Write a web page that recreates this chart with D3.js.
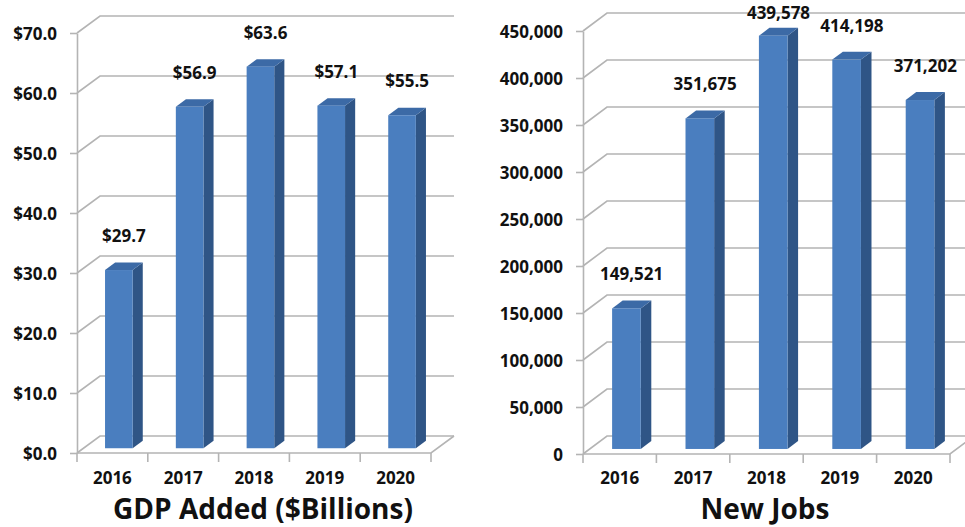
<!DOCTYPE html>
<html>
<head>
<meta charset="utf-8">
<script src="https://cdn.jsdelivr.net/npm/d3@7"></script>
<style>
  html, body { margin: 0; padding: 0; background: #ffffff; }
  svg { display: block; }
  text { font-family: "Open Sans", "DejaVu Sans", sans-serif; font-weight: 700; fill: #111; }
</style>
</head>
<body>
<svg id="chart" width="965" height="527"></svg>
<script>
// ---- data ----
const years = ["2016", "2017", "2018", "2019", "2020"];
const gdpValues = [29.7, 56.9, 63.6, 57.1, 55.5];
const gdpTicks = [0, 10, 20, 30, 40, 50, 60, 70];
const gdpTitle = "GDP Added ($Billions)";
const jobsValues = [149521, 351675, 439578, 414198, 371202];
const jobsTicks = [0, 50000, 100000, 150000, 200000, 250000, 300000, 350000, 400000, 450000];
const jobsTitle = "New Jobs";

// ---- style ----
const gridColor = "#b4b4b4";
const frontColor = "#4a7ebf";
const sideColor = "#2f5586";
const topColor = "#3c6aa6";

const svg = d3.select("#chart");

function drawChart(cfg) {
  const g = svg.append("g");
  const y = d3.scaleLinear().domain([0, cfg.max]).range([cfg.yBottom, cfg.yTop]);
  const x = d3.scaleBand().domain(cfg.categories).range([cfg.x0, cfg.x1]).padding(0);
  const dx = cfg.dx, dy = cfg.dy;
  const t0 = 0.28, t1 = 0.72;
  const barFrac = 0.39;

  // back wall gridlines with diagonals
  cfg.ticks.forEach(t => {
    const yy = y(t);
    g.append("path")
      .attr("d", `M${cfg.x0},${yy}L${cfg.x0 + dx},${yy + dy}L${cfg.x1 + dx},${yy + dy}`)
      .attr("fill", "none").attr("stroke", gridColor).attr("stroke-width", 1.6);
  });
  // floor front edge and right diagonal
  g.append("path")
    .attr("d", `M${cfg.x0},${y(0)}L${cfg.x1},${y(0)}L${cfg.x1 + dx},${y(0) + dy}`)
    .attr("fill", "none").attr("stroke", gridColor).attr("stroke-width", 1.6);

  // y axis
  const yAxis = d3.axisLeft(y).tickValues(cfg.ticks).tickFormat(cfg.tickFormat)
    .tickSize(7).tickSizeOuter(0).tickPadding(13);
  const ya = g.append("g").attr("transform", `translate(${cfg.x0},0)`).call(yAxis);
  ya.select(".domain").attr("stroke", gridColor).attr("stroke-width", 1.6);
  ya.selectAll(".tick line").attr("stroke", gridColor).attr("stroke-width", 1.6);
  ya.selectAll(".tick text").attr("font-size", 17).attr("dy", "0.36em")
    .style("font-family", '"Open Sans", sans-serif').style("font-weight", 700).attr("fill", "#111");

  // x boundary ticks
  const bounds = cfg.categories.map(c => x(c)).concat([cfg.x1]);
  g.selectAll(".xtick").data(bounds).enter().append("line")
    .attr("x1", d => d).attr("x2", d => d)
    .attr("y1", y(0)).attr("y2", y(0) + 9)
    .attr("stroke", gridColor).attr("stroke-width", 1.6);

  // x labels
  const xAxis = d3.axisBottom(x).tickSize(0).tickPadding(0);
  const xa = g.append("g").attr("transform", `translate(0,${cfg.yearBaseline})`).call(xAxis);
  xa.select(".domain").remove();
  xa.selectAll(".tick text").attr("y", 0).attr("dy", 0).attr("font-size", 17)
    .style("font-family", '"Open Sans", sans-serif').style("font-weight", 700).attr("fill", "#111");

  // bars
  const bw = x.bandwidth() * barFrac;
  const bars = g.selectAll(".bar").data(cfg.values).enter().append("g");
  bars.each(function (v, i) {
    const b = d3.select(this);
    const cx = x(cfg.categories[i]) + x.bandwidth() / 2;
    const fx0 = cx - bw / 2 + t0 * dx, fx1 = cx + bw / 2 + t0 * dx;
    const fyTop = y(v) + t0 * dy, fyBot = y(0) + t0 * dy;
    const ddx = (t1 - t0) * dx, ddy = (t1 - t0) * dy;
    // side
    b.append("path")
      .attr("d", `M${fx1},${fyTop}L${fx1 + ddx},${fyTop + ddy}L${fx1 + ddx},${fyBot + ddy}L${fx1},${fyBot}Z`)
      .attr("fill", sideColor);
    // top
    b.append("path")
      .attr("d", `M${fx0},${fyTop}L${fx0 + ddx},${fyTop + ddy}L${fx1 + ddx},${fyTop + ddy}L${fx1},${fyTop}Z`)
      .attr("fill", topColor);
    // front
    b.append("rect")
      .attr("x", fx0).attr("y", fyTop).attr("width", bw).attr("height", fyBot - fyTop)
      .attr("fill", frontColor);
    // value label (kept inside the picture)
    b.append("text")
      .attr("x", (fx0 + fx1 + ddx) / 2)
      .attr("y", Math.max(fyTop - 28, 19))
      .attr("text-anchor", "middle").attr("font-size", 17)
      .text(cfg.labelFormat(v));
  });

  // title
  g.append("text").attr("x", cfg.titleX).attr("y", cfg.titleBaseline)
    .attr("text-anchor", "middle").attr("font-size", 28)
    .text(cfg.title);
}

drawChart({
  categories: years, values: gdpValues, ticks: gdpTicks, max: 70,
  tickFormat: d => "$" + d3.format(".1f")(d),
  labelFormat: d => "$" + d3.format(".1f")(d),
  x0: 77, x1: 431, yBottom: 453, yTop: 33, dx: 23, dy: -17,
  yearBaseline: 484, title: gdpTitle, titleX: 263, titleBaseline: 519
});

drawChart({
  categories: years, values: jobsValues, ticks: jobsTicks, max: 450000,
  tickFormat: d3.format(","),
  labelFormat: d3.format(","),
  x0: 583, x1: 950, yBottom: 454, yTop: 31, dx: 24, dy: -18,
  yearBaseline: 484, title: jobsTitle, titleX: 765, titleBaseline: 519
});
</script>
</body>
</html>
